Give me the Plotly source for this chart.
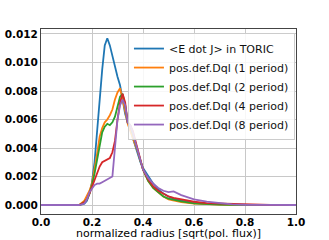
import plotly.graph_objects as go

x_vals = [0.0, 0.05, 0.1, 0.15, 0.17, 0.18, 0.19, 0.2, 0.21, 0.22, 0.23, 0.24, 0.25, 0.26,
          0.27, 0.28, 0.29, 0.3, 0.31, 0.32, 0.33, 0.34, 0.35, 0.36, 0.37, 0.38, 0.39, 0.4,
          0.42, 0.44, 0.46, 0.48, 0.5, 0.52, 0.55, 0.6, 0.65, 0.7, 0.75, 0.8, 0.9, 1.0]

toric = [0, 0, 0, 0, 0.0001, 0.0003, 0.0008, 0.0016, 0.0030, 0.0053, 0.0075, 0.0095, 0.0112, 0.0117,
         0.0112, 0.0104, 0.0097, 0.0090, 0.0084, 0.0074, 0.0064, 0.0058, 0.0054, 0.0047, 0.0041, 0.0035, 0.0030, 0.0026,
         0.0020, 0.0015, 0.0011, 0.0008, 0.0006, 0.00045, 0.0003, 0.00015, 0.00008, 0.00004, 0.00002, 0.00001, 0, 0]

dql_1 = [0, 0, 0, 0, 0.0003, 0.0006, 0.0010, 0.0015, 0.0025, 0.0036, 0.0048, 0.0054, 0.0058, 0.0060,
         0.0063, 0.0067, 0.0074, 0.0079, 0.0082, 0.0075, 0.0066, 0.0057, 0.0052, 0.0048, 0.0043, 0.0037, 0.0031, 0.0025,
         0.0017, 0.0012, 0.0009, 0.0006, 0.0004, 0.0003, 0.0002, 0.0001, 0.00005, 0.00002, 0, 0, 0, 0]

dql_2 = [0, 0, 0, 0, 0.0002, 0.0004, 0.0008, 0.0014, 0.0022, 0.0032, 0.0042, 0.0051, 0.0055, 0.0057,
         0.0056, 0.0058, 0.0062, 0.0070, 0.0076, 0.0078, 0.0070, 0.0058, 0.0056, 0.0050, 0.0043, 0.0037, 0.0031, 0.0025,
         0.0017, 0.0012, 0.0009, 0.0006, 0.00045, 0.00035, 0.00025, 0.00012, 0.00006, 0.00003, 0.00001, 0, 0, 0]

dql_4 = [0, 0, 0, 0, 0.0002, 0.0004, 0.0008, 0.0013, 0.0018, 0.0023, 0.0027, 0.0030, 0.0031, 0.0032,
         0.0033, 0.0037, 0.0045, 0.0060, 0.0072, 0.0078, 0.0072, 0.0058, 0.0056, 0.0052, 0.0045, 0.0038, 0.0031, 0.0025,
         0.0018, 0.0013, 0.0010, 0.0008, 0.0006, 0.0005, 0.0004, 0.00023, 0.00013, 0.0001, 0.00005, 0.00002, 0, 0]

dql_8 = [0, 0, 0, 0, 0.0001, 0.0004, 0.0009, 0.0012, 0.0014, 0.0015, 0.0015, 0.0016, 0.0017, 0.0018,
         0.0019, 0.0020, 0.0040, 0.0060, 0.0070, 0.0074, 0.0070, 0.0058, 0.0056, 0.0051, 0.0044, 0.0037, 0.0030, 0.0025,
         0.0019, 0.0015, 0.0012, 0.0010, 0.0009, 0.00095, 0.0007, 0.0004, 0.00024, 0.00012, 0.00005, 0.00002, 0, 0]

series_names = ["<E dot J> in TORIC", "pos.def.Dql (1 period)", "pos.def.Dql (2 period)",
                "pos.def.Dql (4 period)", "pos.def.Dql (8 period)"]
series_values = [toric, dql_1, dql_2, dql_4, dql_8]
colors = ["#1f77b4", "#ff7f0e", "#2ca02c", "#d62728", "#9467bd"]

y_ticks = [0.0, 0.002, 0.004, 0.006, 0.008, 0.010, 0.012]
x_ticks = [0.0, 0.2, 0.4, 0.6, 0.8, 1.0]

fig = go.Figure()
for name, vals, c in zip(series_names, series_values, colors):
    fig.add_trace(go.Scatter(x=x_vals, y=vals, mode="lines", name=name,
                             line=dict(color=c, width=1.8)))

tickfont = dict(family="DejaVu Sans", size=10.5, color="black", weight="bold")
fig.update_layout(
    width=329, height=240,
    margin=dict(l=41, r=33, t=29, b=26),
    paper_bgcolor="white", plot_bgcolor="white",
    font=dict(family="DejaVu Sans", size=11, color="black"),
    showlegend=True,
    legend=dict(x=0.341, y=0.978, xanchor="left", yanchor="top",
                bgcolor="rgba(255,255,255,0.85)", bordercolor="#cccccc", borderwidth=1,
                font=dict(family="DejaVu Sans", size=11, color="#111"),
                tracegroupgap=0, itemwidth=30),
    xaxis=dict(range=[0, 1], tickvals=x_ticks, tickformat=".1f", tickfont=tickfont,
               automargin=False, ticklabelstandoff=-2,
               showgrid=True, gridcolor="#c8c8c8", gridwidth=1, zeroline=False,
               showline=True, linecolor="#444", linewidth=1, mirror=True,
               ticks="", title=dict(text="normalized radius [sqrt(pol. flux)]",
                                    font=dict(family="DejaVu Sans", size=11), standoff=14)),
    yaxis=dict(range=[-0.00063, 0.01235], tickvals=y_ticks, tickformat=".3f", tickfont=tickfont,
               automargin=False,
               showgrid=True, gridcolor="#c8c8c8", gridwidth=1, zeroline=False,
               showline=True, linecolor="#444", linewidth=1, mirror=True, ticks=""),
)

fig.write_html("out.html", config={"displayModeBar": False},
               post_script="document.body.style.margin='0px';")
